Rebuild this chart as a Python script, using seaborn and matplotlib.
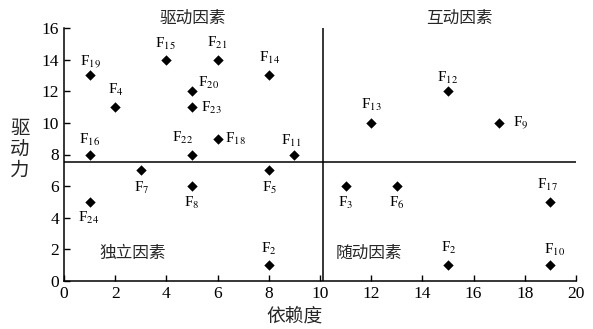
import numpy as np
import pandas as pd
import matplotlib
matplotlib.use("Agg")
import matplotlib.pyplot as plt
import seaborn as sns

# Factor data: dependence (x) and driving power (y)
factor_ids = [19, 15, 21, 14, 20, 4, 23, 16, 22, 18, 11, 7, 5, 8, 24, 2,
              13, 12, 9, 3, 6, 17, 2, 10]
dependence = [1, 4, 6, 8, 5, 2, 5, 1, 5, 6, 9, 3, 8, 5, 1, 8,
              12, 15, 17, 11, 13, 19, 15, 19]
driving = [13, 14, 14, 13, 12, 11, 11, 8, 8, 9, 8, 7, 7, 6, 5, 1,
           10, 12, 10, 6, 6, 5, 1, 1]

# quadrant split values
x_split = 10.1
y_split = 7.5

quadrant_names = ["驱动因素", "互动因素", "独立因素", "随动因素"]

df = pd.DataFrame({"factor": factor_ids, "dependence": dependence, "driving": driving})

# label offsets in pixels (dx, dy) relative to each point
label_offsets = [(1, 14), (-1, 16), (0, 17), (1, 17), (17, 8), (1, 17), (19, -1),
                 (0, 15), (-9, 17), (18, 0), (-3, 14), (1, -18), (1, -18), (0, -17),
                 (-1, -16), (0, 16), (0, 18), (0, 13), (22, 0), (0, -17), (0, -17),
                 (-3, 17), (1, 17), (4, 15)]

sns.set_theme(style="ticks")
plt.rcParams["font.family"] = ["Liberation Serif", "Noto Sans CJK SC"]
plt.rcParams["mathtext.fontset"] = "stix"

fig = plt.figure(figsize=(5.93, 3.29), dpi=100)
ax = fig.add_axes([64 / 593, 48 / 329, 512 / 593, 253 / 329])

sns.scatterplot(data=df, x="dependence", y="driving", marker="D", color="black",
                s=28, edgecolor="black", linewidth=0, ax=ax, zorder=3)

for fid, x, y, (dx, dy) in zip(factor_ids, dependence, driving, label_offsets):
    ax.annotate(f"F$_{{{fid}}}$", (x, y), xytext=(dx, dy), textcoords="offset pixels",
                ha="center", va="center", fontsize=11, color="black")

ax.axvline(x_split, color="black", lw=1.1)
ax.axhline(y_split, color="black", lw=1.1)

ax.set_xlim(0, 20)
ax.set_ylim(0, 16)
ax.set_xticks(range(0, 21, 2))
ax.set_yticks(range(0, 17, 2))
ax.tick_params(direction="in", length=4, width=1, labelsize=12.5, colors="black")
for s in ["left", "bottom"]:
    ax.spines[s].set_color("black")
    ax.spines[s].set_linewidth(1.1)
sns.despine(ax=ax)

cjk = "Noto Sans CJK SC"
quad_pos = [(0.252, 1.04), (0.773, 1.04), (0.134, 0.11), (0.596, 0.11)]
for name, (qx, qy) in zip(quadrant_names, quad_pos):
    ax.text(qx, qy, name, transform=ax.transAxes, ha="center", va="center",
            fontsize=12, family=cjk)

ax.set_xlabel("依赖度", fontsize=13.5, family=cjk, va="center")
ax.xaxis.set_label_coords(0.451, -0.137)
ax.set_ylabel("驱\n动\n力", fontsize=14, family=cjk, rotation=0, va="center",
              linespacing=1.0)
ax.yaxis.set_label_coords(-0.086, 0.52)

plt.savefig("out.png", dpi=100)
